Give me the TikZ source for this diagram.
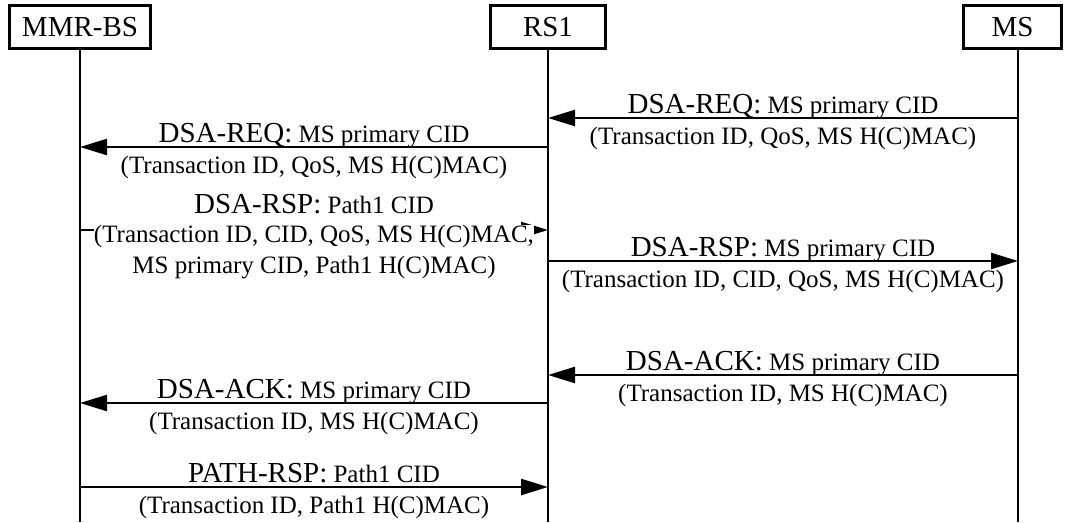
\documentclass[tikz,border=0pt]{standalone}
\usepackage{fontspec}
\setmainfont{Liberation Serif}
\usetikzlibrary{arrows.meta}
\newcommand\msgname[1]{{\fontsize{29}{32}\selectfont #1}}
\begin{document}
\begin{tikzpicture}[x=1pt,y=-1pt,
  actor/.style={draw, line width=2.5pt, minimum height=43pt, inner sep=0pt,
    font=\fontsize{29}{32}\selectfont},
  life/.style={line width=2.5pt},
  msg/.style={line width=2.5pt, -{Triangle[length=27pt,width=16pt]}},
  lbl/.style={anchor=base, inner sep=0pt, font=\fontsize{25}{28}\selectfont},
]
\useasboundingbox[fill=white] (0,0) rectangle (1065,522);

% participants
\node[actor, minimum width=141pt] (bs) at (80,27) {MMR-BS};
\node[actor, minimum width=115pt] (rs) at (548,27) {RS1};
\node[actor, minimum width=98pt]  (ms) at (1012.5,27) {MS};

% lifelines
\coordinate (bsTop) at (80,48.5);   \coordinate (bsBot) at (80,522);
\coordinate (rsTop) at (548,48.5);  \coordinate (rsBot) at (548,522);
\coordinate (msTop) at (1018,48.5); \coordinate (msBot) at (1018,522);
\draw[life] (bsTop) -- (bsBot);
\draw[life] (rsTop) -- (rsBot);
\draw[life] (msTop) -- (msBot);

% message rows
\coordinate (r1) at (0,118);
\coordinate (r2) at (0,147);
\coordinate (r3) at (0,230);
\coordinate (r4) at (0,261);
\coordinate (r5) at (0,375);
\coordinate (r6) at (0,403);
\coordinate (r7) at (0,487);

\draw[msg] (msTop |- r1) -- (rsTop |- r1)
  node[lbl, midway, yshift=5pt] {\msgname{DSA-REQ:} MS primary CID}
  node[lbl, midway, yshift=-26pt] {(Transaction ID, QoS, MS H(C)MAC)};

\draw[msg] (rsTop |- r2) -- (bsTop |- r2)
  node[lbl, midway, yshift=5pt] {\msgname{DSA-REQ:} MS primary CID}
  node[lbl, midway, yshift=-26pt] {(Transaction ID, QoS, MS H(C)MAC)};

\draw[msg] (bsTop |- r3) -- (rsTop |- r3)
  node[lbl, midway, yshift=17pt] {\msgname{DSA-RSP:} Path1 CID}
  node[lbl, midway, yshift=-12pt, fill=white] {(Transaction ID, CID, QoS, MS H(C)MAC,}
  node[lbl, midway, yshift=-43pt] {MS primary CID, Path1 H(C)MAC)};

\draw[msg] (rsTop |- r4) -- (msTop |- r4)
  node[lbl, midway, yshift=5pt] {\msgname{DSA-RSP:} MS primary CID}
  node[lbl, midway, yshift=-26pt] {(Transaction ID, CID, QoS, MS H(C)MAC)};

\draw[msg] (msTop |- r5) -- (rsTop |- r5)
  node[lbl, midway, yshift=5pt] {\msgname{DSA-ACK:} MS primary CID}
  node[lbl, midway, yshift=-26pt] {(Transaction ID, MS H(C)MAC)};

\draw[msg] (rsTop |- r6) -- (bsTop |- r6)
  node[lbl, midway, yshift=5pt] {\msgname{DSA-ACK:} MS primary CID}
  node[lbl, midway, yshift=-26pt] {(Transaction ID, MS H(C)MAC)};

\draw[msg] (bsTop |- r7) -- (rsTop |- r7)
  node[lbl, midway, yshift=5pt] {\msgname{PATH-RSP:} Path1 CID}
  node[lbl, midway, yshift=-26pt] {(Transaction ID, Path1 H(C)MAC)};
\end{tikzpicture}
\end{document}
